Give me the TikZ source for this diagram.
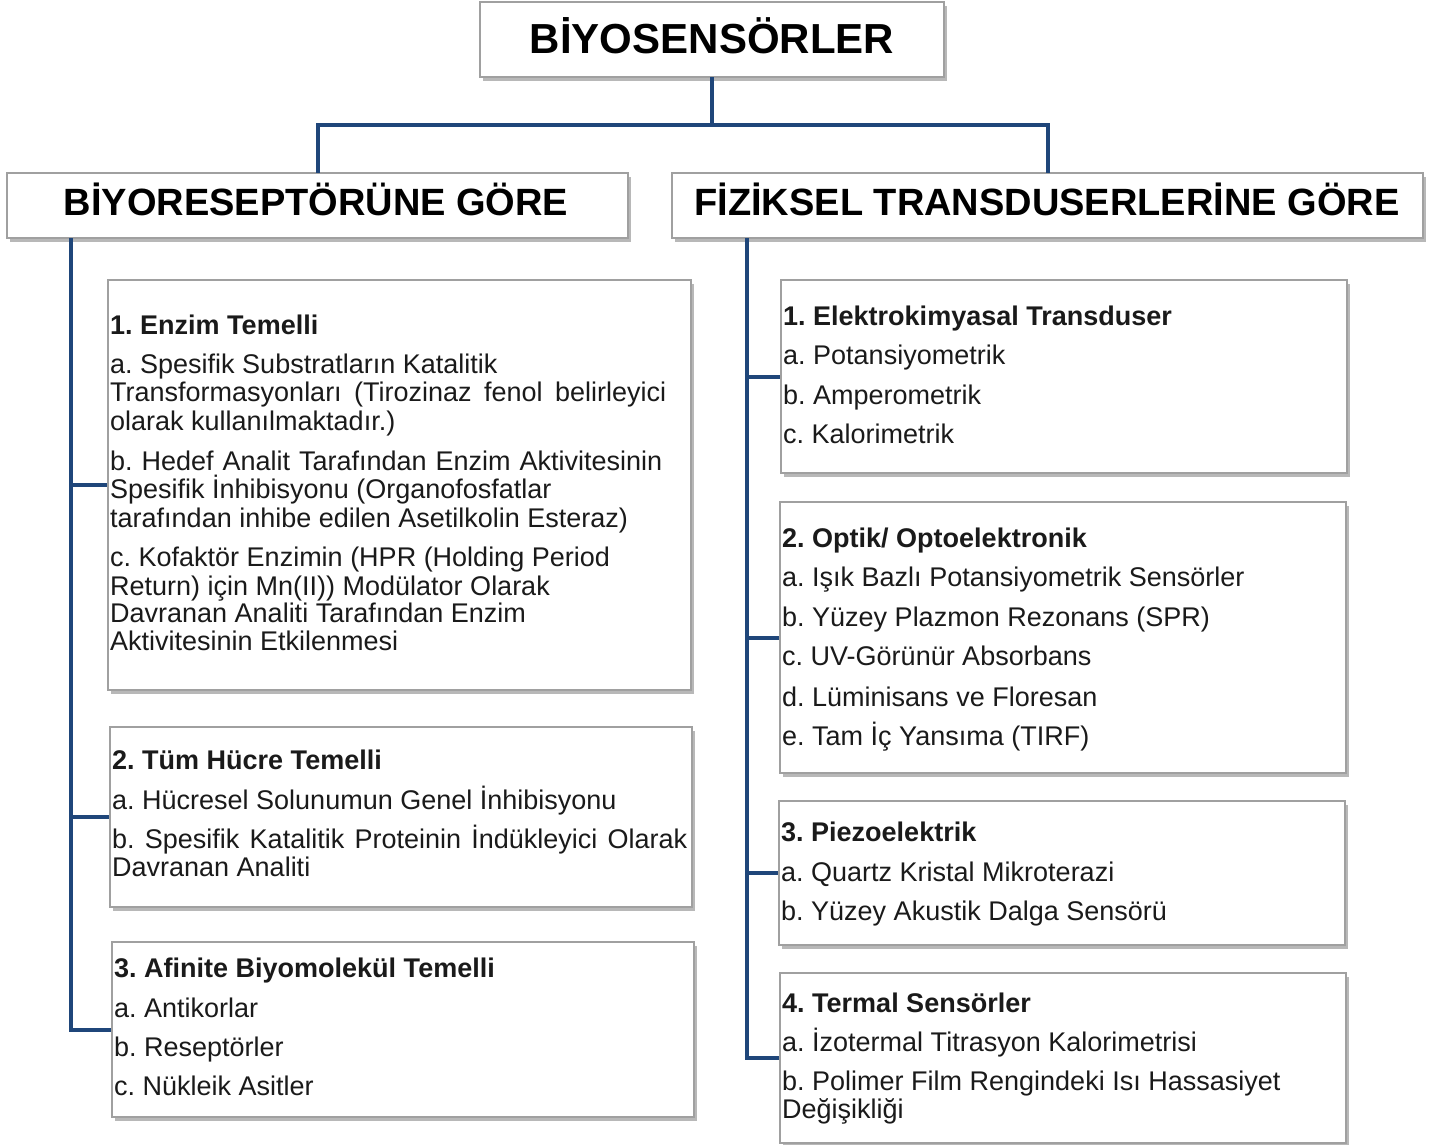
\documentclass[tikz,border=0pt]{standalone}
\usepackage{fontspec}
\setmainfont{Liberation Sans}
\usetikzlibrary{shadows}
\definecolor{navy}{HTML}{1F467A}
\definecolor{boxline}{HTML}{A0A0A0}
\definecolor{txtc}{HTML}{1A1A1A}
\tikzset{
  box/.style={draw=boxline, line width=1.3pt, fill=white, inner sep=0pt, outer sep=0pt,
    drop shadow={shadow xshift=2.5pt, shadow yshift=-3.5pt, fill=black, opacity=0.28}},
  conn/.style={draw=navy, line width=4pt},
  txt/.style={anchor=base west, inner sep=0pt, text=txtc, font=\frenchspacing\fontsize{27}{30}\selectfont},
  hd/.style={anchor=base west, inner sep=0pt, text=txtc, font=\frenchspacing\bfseries\fontsize{27}{30}\selectfont},
  ttl/.style={anchor=base, inner sep=0pt, text=black, font=\bfseries\fontsize{38}{44}\selectfont},
}
\newcommand\bx[5]{\node[box, minimum width={(#4)-(#2)}, minimum height={(#5)-(#3)}] (#1) at ({((#2)+(#4))/2},{((#3)+(#5))/2}) {};}
\begin{document}
\frenchspacing
\begin{tikzpicture}[x=1pt,y=-1pt]
\useasboundingbox (0,0) rectangle (1438,1144);
% boxes
\bx{top}{480}{2}{944}{77}
\bx{L}{7}{173}{628}{238}
\bx{R}{672}{173}{1423}{238}
\coordinate (lv) at (71,238);
\coordinate (rv) at (747,238);
% connectors
\draw[conn] (top.south) -- ++(0,48) coordinate (hub) -| (L.north);
\draw[conn] (hub) -| (R.north);
\draw[conn] (lv) -- (lv |- 0,1030) -- (112,1030);
\draw[conn] (lv |- 0,485) -- (108,485);
\draw[conn] (lv |- 0,817) -- (110,817);
\draw[conn] (rv) -- (rv |- 0,1058) -- (780,1058);
\draw[conn] (rv |- 0,377) -- (781,377);
\draw[conn] (rv |- 0,638) -- (780,638);
\draw[conn] (rv |- 0,873) -- (779,873);
\bx{lb1}{108}{280}{691}{690}
\bx{lb2}{110}{727}{692}{907}
\bx{lb3}{112}{942}{694}{1117}
\bx{rb1}{781}{280}{1347}{473}
\bx{rb2}{780}{502}{1346}{773}
\bx{rb3}{779}{801}{1345}{945}
\bx{rb4}{780}{973}{1346}{1143}
% titles
\node[anchor=base, inner sep=0pt, font=\bfseries\fontsize{42}{48}\selectfont] (ttop) at (712,53) {BİYOSENSÖRLER};
\node[ttl] (tL) at (316,215) {BİYORESEPTÖRÜNE GÖRE};
\node[ttl] (tR) at (1047,215) {FİZİKSEL TRANSDUSERLERİNE GÖRE};
% left box 1
\node[hd] (a0) at (110,334) {1. Enzim Temelli};
\node[txt] (a1) at (110,373) {a. Spesifik Substratların Katalitik};
\node[txt] (a2) at (110,401) {\makebox[556pt][s]{Transformasyonları (Tirozinaz fenol belirleyici}};
\node[txt] (a3) at (110,430) {olarak kullanılmaktadır.)};
\node[txt] (a4) at (110,470) {\makebox[552pt][s]{b. Hedef Analit Tarafından Enzim Aktivitesinin}};
\node[txt] (a5) at (110,498) {Spesifik İnhibisyonu (Organofosfatlar};
\node[txt] (a6) at (110,527) {tarafından inhibe edilen Asetilkolin Esteraz)};
\node[txt] (a7) at (110,566) {c. Kofaktör Enzimin (HPR (Holding Period};
\node[txt] (a8) at (110,595) {Return) için Mn(II)) Modülator Olarak};
\node[txt] (a9) at (110,622) {Davranan Analiti Tarafından Enzim};
\node[txt] (a10) at (110,650) {Aktivitesinin Etkilenmesi};
% left box 2
\node[hd] (b0) at (112,769) {2. Tüm Hücre Temelli};
\node[txt] (b1) at (112,809) {a. Hücresel Solunumun Genel İnhibisyonu};
\node[txt] (b2) at (112,848) {\makebox[575pt][s]{b. Spesifik Katalitik Proteinin İndükleyici Olarak}};
\node[txt] (b3) at (112,876) {Davranan Analiti};
% left box 3
\node[hd] (c0) at (114,977) {3. Afinite Biyomolekül Temelli};
\node[txt] (c1) at (114,1017) {a. Antikorlar};
\node[txt] (c2) at (114,1056) {b. Reseptörler};
\node[txt] (c3) at (114,1095) {c. Nükleik Asitler};
% right box 1
\node[hd] (d0) at (783,325) {1. Elektrokimyasal Transduser};
\node[txt] (d1) at (783,364) {a. Potansiyometrik};
\node[txt] (d2) at (783,404) {b. Amperometrik};
\node[txt] (d3) at (783,443) {c. Kalorimetrik};
% right box 2
\node[hd] (e0) at (782,547) {2. Optik/ Optoelektronik};
\node[txt] (e1) at (782,586) {a. Işık Bazlı Potansiyometrik Sensörler};
\node[txt] (e2) at (782,626) {b. Yüzey Plazmon Rezonans (SPR)};
\node[txt] (e3) at (782,665) {c. UV-Görünür Absorbans};
\node[txt] (e4) at (782,706) {d. Lüminisans ve Floresan};
\node[txt] (e5) at (782,745) {e. Tam İç Yansıma (TIRF)};
% right box 3
\node[hd] (f0) at (781,841) {3. Piezoelektrik};
\node[txt] (f1) at (781,881) {a. Quartz Kristal Mikroterazi};
\node[txt] (f2) at (781,920) {b. Yüzey Akustik Dalga Sensörü};
% right box 4
\node[hd] (g0) at (782,1012) {4. Termal Sensörler};
\node[txt] (g1) at (782,1051) {a. İzotermal Titrasyon Kalorimetrisi};
\node[txt] (g2) at (782,1090) {b. Polimer Film Rengindeki Isı Hassasiyet};
\node[txt] (g3) at (782,1118) {Değişikliği};
\end{tikzpicture}
\end{document}
